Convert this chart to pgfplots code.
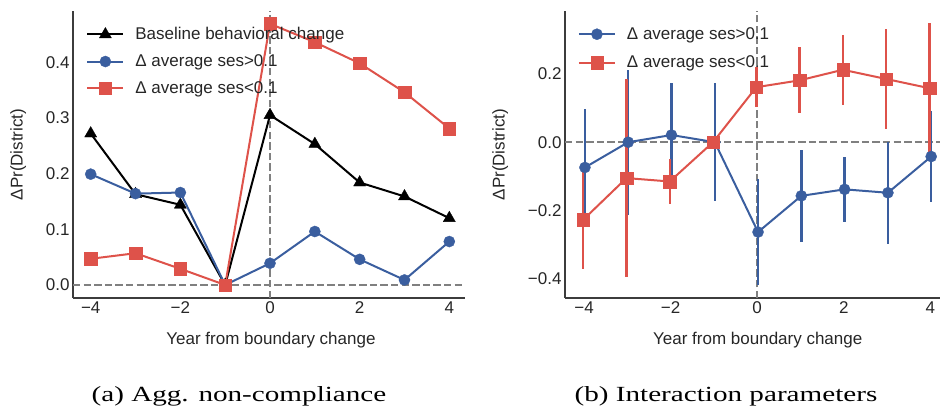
\documentclass[border=0pt]{standalone}
\usepackage{fontspec}
\setmainfont{Liberation Sans}
\newfontfamily\capfont[FakeStretch=1.35]{Liberation Serif}
\usepackage{pgfplots}
\pgfplotsset{compat=1.18}
\definecolor{sbblue}{HTML}{3A5E9F}
\definecolor{sbred}{HTML}{DE524A}
\definecolor{spine}{HTML}{3C3C3C}
\definecolor{txt}{HTML}{262626}
\tikzset{refl/.style={gray, line width=2pt, dash pattern=on 7.4pt off 3.2pt}}
\pgfplotsset{
  myax/.style={
    scale only axis, clip=false,
    axis x line*=bottom, axis y line*=left,
    axis line style={spine, line width=1.5pt, -},
    major tick length=0pt,
    tick label style={font=\fontsize{17}{20}\selectfont, text=txt},
    /pgf/number format/assume math mode=true,
    xtick={-4,-2,0,2,4}, xticklabels={−4,−2,0,2,4},
    legend style={draw=none, fill=none, font=\fontsize{17}{20}\selectfont, text=txt,
      legend cell align=left, row sep=9.5pt, anchor=north west,
      /tikz/every odd column/.append style={column sep=9pt}},
    legend image code/.code={\draw[mark repeat=2,mark phase=2] plot coordinates {(0pt,0pt) (18pt,0pt) (36pt,0pt)};},
  },
  blueln/.style={sbblue, line width=2pt, mark=*, mark size=5.6pt, mark options={solid, line width=0.3pt, fill=sbblue}},
  redln/.style={sbred, line width=2pt, mark=square*, mark size=6.2pt, mark options={solid, line width=0.3pt, fill=sbred}},
  blackln/.style={black, line width=2pt, mark=triangle*, mark size=7pt, mark options={solid, line width=0.3pt, fill=black}},
  errb/.style={error bars/y dir=both, error bars/y explicit, error bars/error mark=none,
    error bars/error bar style={line width=2.5pt, #1}},
}
\begin{document}
\begin{tikzpicture}
\useasboundingbox (0,0) rectangle (940pt,412pt);
% ---------- (a)
\begin{axis}[myax, at={(73pt,114pt)}, anchor=south west,
  width=392pt, height=287pt,
  xmin=-4.395, xmax=4.35, ymin=-0.0234, ymax=0.492,
  ytick={0,0.1,0.2,0.3,0.4}, yticklabels={0.0,0.1,0.2,0.3,0.4},
  xlabel={Year from boundary change}, ylabel={ΔPr(District)},
  every axis y label/.style={at={(axis description cs:-0.14,0.5)}, rotate=90, anchor=center, font=\fontsize{17}{20}\selectfont, text=txt},
  every axis x label/.style={at={(axis description cs:0.505,-0.146)}, anchor=center, font=\fontsize{17}{20}\selectfont, text=txt},
  legend style={at={(axis description cs:0.026,0.957)}},
]
\draw[refl] (axis cs:-4.395,0) -- (axis cs:4.35,0);
\draw[refl] (axis cs:0,-0.0234) -- (axis cs:0,0.492);
\addplot[blackln] coordinates {(-4,0.272) (-3,0.163) (-2,0.144) (-1,0) (0,0.305) (1,0.253) (2,0.184) (3,0.159) (4,0.120)};
\addlegendentry{Baseline behavioral change}
\addplot[blueln] coordinates {(-4,0.199) (-3,0.164) (-2,0.166) (-1,0) (0,0.039) (1,0.096) (2,0.046) (3,0.009) (4,0.078)};
\addlegendentry{Δ average ses>0.1}
\addplot[redln] coordinates {(-4,0.047) (-3,0.057) (-2,0.029) (-1,0) (0,0.469) (1,0.436) (2,0.398) (3,0.346) (4,0.281)};
\addlegendentry{Δ average ses<0.1}
\end{axis}
% ---------- (b)
\begin{axis}[myax, at={(565pt,114pt)}, anchor=south west,
  width=375pt, height=287pt,
  xmin=-4.44, xmax=4.224, ymin=-0.456, ymax=0.384,
  ytick={-0.4,-0.2,0,0.2}, yticklabels={−0.4,−0.2,0.0,0.2},
  xlabel={Year from boundary change}, ylabel={ΔPr(District)},
  every axis y label/.style={at={(axis description cs:-0.173,0.5)}, rotate=90, anchor=center, font=\fontsize{17}{20}\selectfont, text=txt},
  every axis x label/.style={at={(axis description cs:0.514,-0.146)}, anchor=center, font=\fontsize{17}{20}\selectfont, text=txt},
  legend style={at={(axis description cs:0.026,0.957)}, row sep=11pt},
]
\draw[refl] (axis cs:-4.44,0) -- (axis cs:4.224,0);
\draw[refl] (axis cs:0,-0.456) -- (axis cs:0,0.384);
\addplot[blueln, errb=sbblue] coordinates {
 (-3.98,-0.074) +- (0,0.172)
 (-2.98,0.000) +- (0,0.212)
 (-1.98,0.021) +- (0,0.153)
 (-0.98,0.000) +- (0,0.173)
 (0.02,-0.263) +- (0,0.155)
 (1.02,-0.157) +- (0,0.135)
 (2.02,-0.138) +- (0,0.096)
 (3.02,-0.148) +- (0,0.149)
 (4.02,-0.042) +- (0,0.133)
};
\addlegendentry{Δ average ses>0.1}
\addplot[redln, errb=sbred] coordinates {
 (-4.02,-0.227) +- (0,0.145)
 (-3.02,-0.105) +- (0,0.290)
 (-2.02,-0.115) +- (0,0.067)
 (-1.02,0.000) +- (0,0.0)
 (-0.02,0.161) +- (0,0.058)
 (0.98,0.181) +- (0,0.097)
 (1.98,0.212) +- (0,0.102)
 (2.98,0.185) +- (0,0.145)
 (3.98,0.158) +- (0,0.190)
};
\addlegendentry{Δ average ses<0.1}
\end{axis}
\node[font=\capfont\fontsize{21.6}{24}\selectfont, anchor=base] at (239pt,10pt) {(a) Agg. non-compliance};
\node[font=\capfont\fontsize{21.6}{24}\selectfont, anchor=base] at (726pt,10pt) {(b) Interaction parameters};
\end{tikzpicture}
\end{document}
